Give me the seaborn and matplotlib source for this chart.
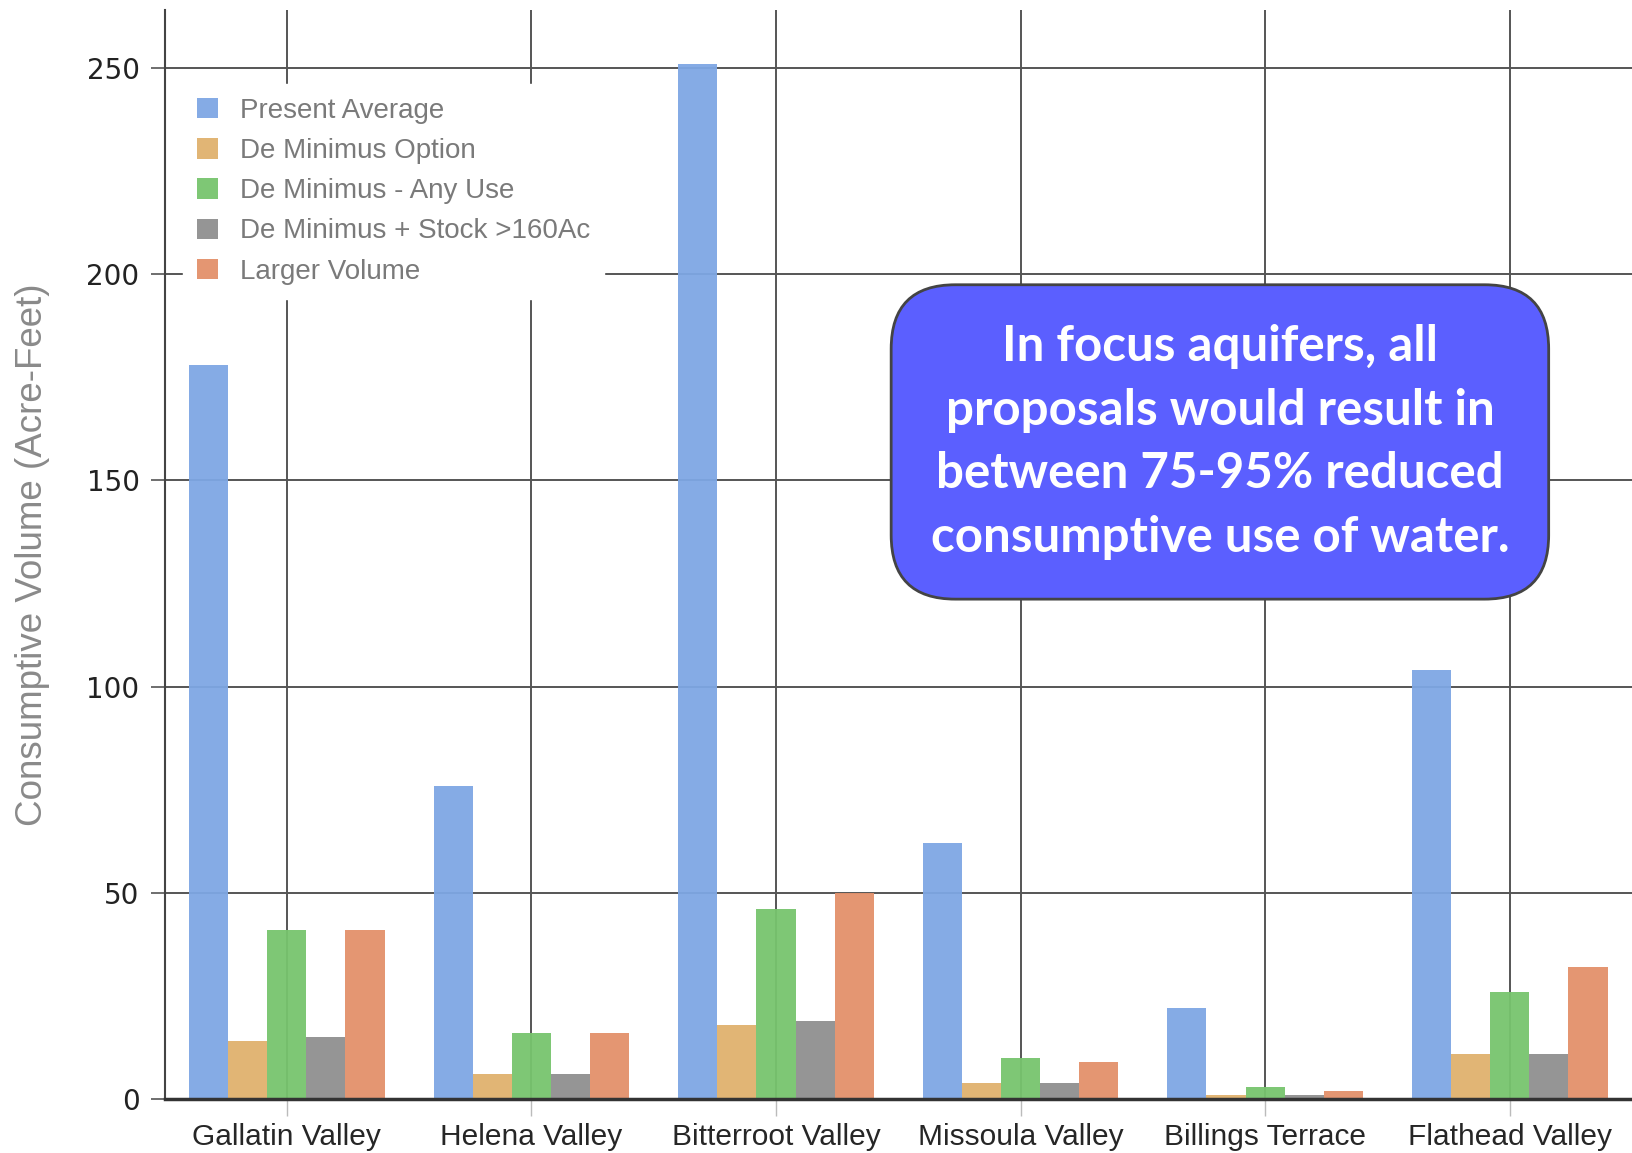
import pandas as pd
import matplotlib.pyplot as plt
import seaborn as sns

valleys = ['Gallatin Valley', 'Helena Valley', 'Bitterroot Valley', 'Missoula Valley',
           'Billings Terrace', 'Flathead Valley']
scenarios = ['Present Average', 'De Minimus Option', 'De Minimus - Any Use',
             'De Minimus + Stock >160Ac', 'Larger Volume']
present_avg = [178, 76, 251, 62, 22, 104]
de_min_option = [14, 6, 18, 4, 1, 11]
de_min_any = [41, 16, 46, 10, 3, 26]
de_min_stock = [15, 6, 19, 4, 1, 11]
larger_vol = [41, 16, 50, 9, 2, 32]
colors = ['#7ea7e4', '#e0b16e', '#77c46e', '#8f8f8f', '#e3916a']

rows = []
for s, vals in zip(scenarios, [present_avg, de_min_option, de_min_any, de_min_stock, larger_vol]):
    for v, val in zip(valleys, vals):
        rows.append({'Valley': v, 'Scenario': s, 'Volume': val})
data = pd.DataFrame(rows)

sns.set_style('white')
plt.rcParams['font.family'] = ['DejaVu Sans']

fig = plt.figure(figsize=(16.32, 11.53), dpi=100)
ax = fig.add_axes([0.1008, 0.0468, 0.8992, 0.9445])

sns.barplot(data=data, x='Valley', y='Volume', hue='Scenario', order=valleys,
            hue_order=scenarios, palette=colors, width=0.8, alpha=0.95,
            saturation=1, edgecolor='none', ax=ax)

ax.set_axisbelow(True)
ax.grid(True, axis='both', color='#555555', linewidth=1.4)
ax.set_ylim(0, 264)
ax.set_xlim(-0.5, 5.5)
ax.set_yticks([0, 50, 100, 150, 200, 250])
ax.tick_params(axis='y', length=10, width=1.2, color='#555555', labelsize=20,
               labelcolor='#222222', pad=8, left=True)
ax.tick_params(axis='x', length=12, width=1, color='#bbbbbb', labelsize=21.5, pad=5, bottom=True)
for lab in ax.get_xticklabels():
    lab.set_family(['Liberation Sans', 'DejaVu Sans'])
ax.set_xlabel('')
ax.set_ylabel('Consumptive Volume (Acre-Feet)', fontsize=26.5, color='#8a8a8a',
              family=['Liberation Sans', 'DejaVu Sans'], labelpad=26)
for sp in ['top', 'right']:
    ax.spines[sp].set_visible(False)
ax.spines['left'].set_color('#444444')
ax.spines['left'].set_linewidth(1.5)
ax.spines['bottom'].set_color('#333333')
ax.spines['bottom'].set_linewidth(2.5)

leg = ax.legend(loc='upper left', bbox_to_anchor=(0.0126, 0.932), borderaxespad=0,
                frameon=True, facecolor='white', edgecolor='white', framealpha=1,
                fontsize=20, handlelength=0.75, handleheight=0.75, handletextpad=0.8,
                labelspacing=0.51, borderpad=0.5, fancybox=False)
for t in leg.get_texts():
    t.set_color('#7a7a7a')
    t.set_family(['Liberation Sans', 'DejaVu Sans'])

fig.text(0.7475, 0.6167,
         'In focus aquifers, all\nproposals would result in\nbetween 75-95% reduced\nconsumptive use of water.',
         ha='center', va='center', color='white', fontsize=35.5, fontweight='bold',
         family=['Lato', 'DejaVu Sans'], linespacing=1.5,
         bbox=dict(boxstyle='round,pad=0.8,rounding_size=1.3', facecolor='#5b5fff',
                   edgecolor='#444444', linewidth=2))

fig.savefig('out.png', dpi=100)
